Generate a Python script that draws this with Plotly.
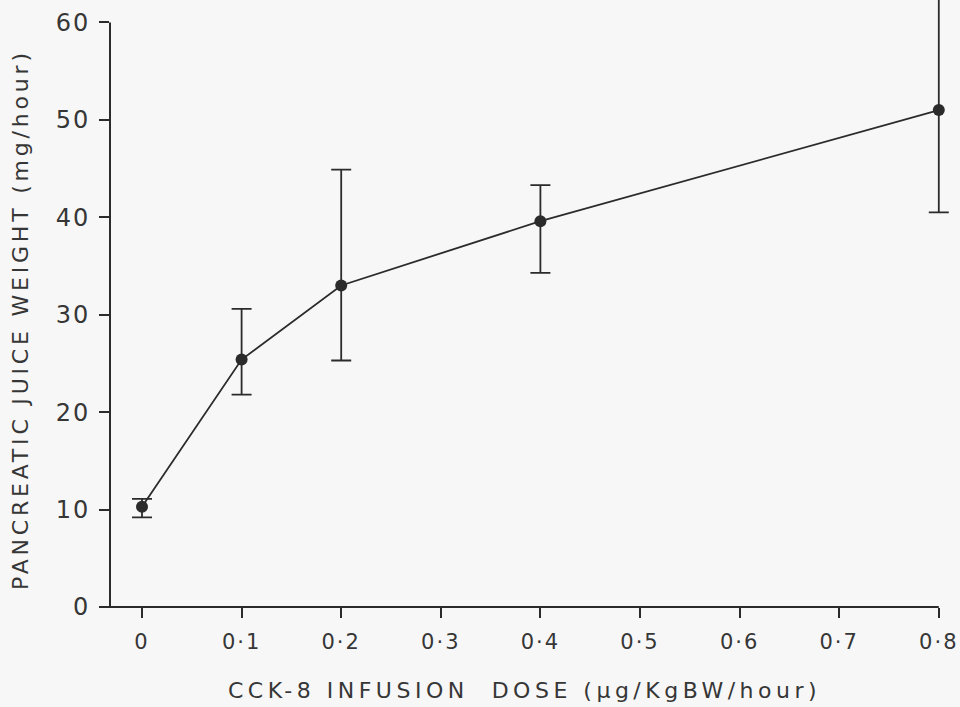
import plotly.graph_objects as go

dose = [0, 0.1, 0.2, 0.4, 0.8]
weight = [10.3, 25.4, 33.0, 39.6, 51.0]
err_plus = [0.8, 5.2, 11.9, 3.7, 11.5]
err_minus = [1.1, 3.6, 7.7, 5.3, 10.5]

x_ticks = [0, 0.1, 0.2, 0.3, 0.4, 0.5, 0.6, 0.7, 0.8]
x_labels = ["0", "0·1", "0·2", "0·3", "0·4", "0·5", "0·6", "0·7", "0·8"]
y_ticks = [0, 10, 20, 30, 40, 50, 60]
y_labels = ["0", "10", "20", "30", "40", "50", "60"]
x_title = "CCK-8 INFUSION  DOSE (μg/KgBW/hour)"
y_title = "PANCREATIC JUICE WEIGHT (mg/hour)"

ink = "#2b2b2b"
txt = "#363636"
font_family = "DejaVu Sans, sans-serif"

def spaced(s, px):
    return f'<span style="letter-spacing:{px}px">{s}</span>'

W, H = 960, 707
ml, mr, mt, mb = 110, 0, 0, 100
pw = W - ml - mr
ph = H - mt - mb
x0_px = 142          # pixel of dose 0
px_per_unit = 996.0  # pixels per 1.0 dose unit
x_lo = -(x0_px - ml) / px_per_unit
x_hi = (W - x0_px) / px_per_unit
y_hi = 62.3

def xpaper(v):
    return (v - x_lo) / (x_hi - x_lo)

fig = go.Figure()
fig.add_trace(go.Scatter(
    x=dose, y=weight, mode="lines+markers",
    line=dict(color=ink, width=1.8),
    marker=dict(color=ink, size=12),
    error_y=dict(type="data", symmetric=False, array=err_plus, arrayminus=err_minus,
                 color=ink, thickness=1.8, width=10),
    cliponaxis=False,
    showlegend=False,
))

fig.update_layout(
    width=W, height=H,
    margin=dict(l=ml, r=mr, t=mt, b=mb),
    paper_bgcolor="#f7f7f7", plot_bgcolor="#f7f7f7",
    font=dict(family=font_family, color=txt, size=20),
    xaxis=dict(range=[x_lo, x_hi], tickvals=x_ticks,
               ticktext=[spaced(t, 2) for t in x_labels],
               showgrid=False, zeroline=False, showline=False,
               ticks="outside", ticklen=10, tickwidth=2, tickcolor=ink,
               tickfont=dict(size=21), ticklabelstandoff=6),
    yaxis=dict(range=[0, y_hi], tickvals=y_ticks,
               ticktext=[spaced(t, 2) for t in y_labels],
               showgrid=False, zeroline=False, showline=False,
               ticks="outside", ticklen=10, tickwidth=2, tickcolor=ink,
               tickfont=dict(size=24), ticklabelstandoff=4),
)

# y axis line, from 0 up to 60 only
fig.add_shape(type="line", xref="paper", yref="paper", x0=0, x1=0,
              y0=0, y1=60 / y_hi, line=dict(color=ink, width=2))
# x axis line from a little left of the y axis to the last tick
fig.add_shape(type="line", xref="paper", yref="paper", x0=-10 / pw, x1=xpaper(0.8),
              y0=0, y1=0, line=dict(color=ink, width=2))

fig.add_annotation(text=spaced(y_title, 3.8), textangle=-90,
                   xref="paper", yref="paper", x=-(ml - 20) / pw, y=1 - (320 - mt) / ph,
                   xanchor="center", yanchor="middle", showarrow=False,
                   font=dict(size=22, color=txt))
fig.add_annotation(text=spaced(x_title, 4.5),
                   xref="paper", yref="paper", x=(524 - ml) / pw, y=-(690 - (H - mb)) / ph,
                   xanchor="center", yanchor="middle", showarrow=False,
                   font=dict(size=22, color=txt))

fig.write_html("out.html")
